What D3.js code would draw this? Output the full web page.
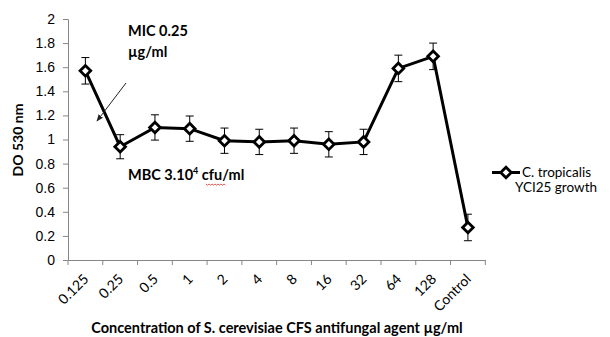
<!DOCTYPE html>
<html>
<head>
<meta charset="utf-8">
<script src="https://cdn.jsdelivr.net/npm/d3@7"></script>
<style>
  html, body { margin: 0; padding: 0; background: #fff; }
  svg { display: block; font-family: Lato, "Open Sans", sans-serif; }
  .tick text { font-size: 14px; fill: #000; }
</style>
</head>
<body>
<svg id="chart" width="610" height="337"></svg>
<script>
// DO 530 nm vs concentration — line with error bars (Excel-style)
const categories = ["0.125", "0.25", "0.5", "1", "2", "4", "8", "16", "32", "64", "128", "Control"];
const growth = [1.57, 0.94, 1.10, 1.09, 0.99, 0.98, 0.99, 0.96, 0.98, 1.59, 1.69, 0.27];
const errors = [0.11, 0.10, 0.105, 0.105, 0.105, 0.105, 0.105, 0.105, 0.105, 0.11, 0.11, 0.11];
const yTicks = [0, 0.2, 0.4, 0.6, 0.8, 1, 1.2, 1.4, 1.6, 1.8, 2];
const seriesName = ["C. tropicalis", "YCI25 growth"];

const svg = d3.select("#chart");
const m = { left: 68, right: 485.3, top: 19, bottom: 260 };
const axisColor = "#868686";

const x = d3.scaleBand().domain(categories).range([m.left, m.right]).padding(0);
const y = d3.scaleLinear().domain([0, 2]).range([m.bottom, m.top]);
const cx = (d) => x(d) + x.bandwidth() / 2;

// --- axes ---
const yAxis = svg.append("g").attr("transform", `translate(${m.left},0)`)
  .call(d3.axisLeft(y).tickValues(yTicks).tickFormat(d3.format("~g")).tickSize(5).tickPadding(8));
yAxis.selectAll("line, path").attr("stroke", axisColor);

const xAxis = svg.append("g").attr("transform", `translate(0,${m.bottom})`)
  .call(d3.axisBottom(x).tickSize(0).tickFormat(""));
xAxis.select(".domain").attr("stroke", axisColor);
// Excel puts the ticks between categories
const edges = categories.map((c) => x(c)).concat([m.right]);
svg.append("g").selectAll("line").data(edges).enter().append("line")
  .attr("x1", (d) => d).attr("x2", (d) => d)
  .attr("y1", m.bottom).attr("y2", m.bottom + 5)
  .attr("stroke", axisColor);

svg.append("g").selectAll("text").data(categories).enter().append("text")
  .attr("transform", (d) => `translate(${cx(d) + 4},${m.bottom + 20}) rotate(-45)`)
  .attr("text-anchor", "end").attr("font-size", 14).text((d) => d);

// --- titles ---
svg.append("text").attr("transform", "translate(23,140) rotate(-90)")
  .attr("text-anchor", "middle").attr("font-weight", "bold").attr("font-size", 14).text("DO 530 nm");
svg.append("text").attr("x", 277).attr("y", 333)
  .attr("text-anchor", "middle").attr("font-weight", "bold").attr("font-size", 14.5)
  .text("Concentration of S. cerevisiae CFS antifungal agent µg/ml");

// --- error bars ---
const eb = svg.append("g").attr("stroke", "#000").attr("stroke-width", 1);
categories.forEach((c, i) => {
  const x0 = cx(c), top = y(growth[i] + errors[i]), bot = y(growth[i] - errors[i]);
  eb.append("line").attr("x1", x0).attr("x2", x0).attr("y1", top).attr("y2", bot);
  eb.append("line").attr("x1", x0 - 4).attr("x2", x0 + 4).attr("y1", top).attr("y2", top);
  eb.append("line").attr("x1", x0 - 4).attr("x2", x0 + 4).attr("y1", bot).attr("y2", bot);
});

// --- line + markers ---
const line = d3.line().x((d, i) => cx(categories[i])).y((d) => y(d));
svg.append("path").datum(growth).attr("fill", "none")
  .attr("stroke", "#000").attr("stroke-width", 3).attr("d", line);

const diamond = d3.symbol().type(d3.symbolDiamond2).size(72);
svg.append("g").selectAll("path").data(growth).enter().append("path")
  .attr("d", diamond)
  .attr("transform", (d, i) => `translate(${cx(categories[i])},${y(d)})`)
  .attr("fill", "#fff").attr("stroke", "#000").attr("stroke-width", 2.8);

// --- annotations ---
svg.append("defs").append("marker").attr("id", "arrow")
  .attr("viewBox", "0 0 10 10").attr("refX", 9).attr("refY", 5)
  .attr("markerWidth", 7).attr("markerHeight", 7).attr("orient", "auto")
  .append("path").attr("d", "M0,1L10,5L0,9Z").attr("fill", "#222");
svg.append("line").attr("x1", 126).attr("y1", 83).attr("x2", 97).attr("y2", 121)
  .attr("stroke", "#222").attr("stroke-width", 1).attr("marker-end", "url(#arrow)");

const ann = svg.append("g").attr("font-weight", "bold").attr("font-size", 14.5);
ann.append("text").attr("x", 128).attr("y", 36).text("MIC 0.25");
ann.append("text").attr("x", 128).attr("y", 57).text("µg/ml");
const mbc = ann.append("text").attr("x", 128).attr("y", 180);
mbc.append("tspan").text("MBC 3.10");
mbc.append("tspan").attr("font-size", 9).attr("dy", -6).text("4");
mbc.append("tspan").attr("dy", 6).text(" cfu/ml");
// spell-check squiggle under "cfu"
const squiggle = d3.range(0, 21, 1.5).map((d, i) => [206 + d, 184 + (i % 2 ? 1.2 : 0)]);
svg.append("path").attr("d", d3.line()(squiggle)).attr("fill", "none")
  .attr("stroke", "#e03030").attr("stroke-width", 0.8);

// --- legend ---
const lg = svg.append("g").attr("transform", "translate(492,172.5)");
lg.append("line").attr("x1", 0).attr("x2", 28).attr("y1", 0).attr("y2", 0)
  .attr("stroke", "#000").attr("stroke-width", 3);
lg.append("path").attr("d", diamond).attr("transform", "translate(14,0)")
  .attr("fill", "#fff").attr("stroke", "#000").attr("stroke-width", 2.8);
lg.append("text").attr("x", 30).attr("y", 4.5).attr("font-size", 13.5).text(seriesName[0]);
lg.append("text").attr("x", 23).attr("y", 19.5).attr("font-size", 13.5).text(seriesName[1]);
</script>
</body>
</html>
